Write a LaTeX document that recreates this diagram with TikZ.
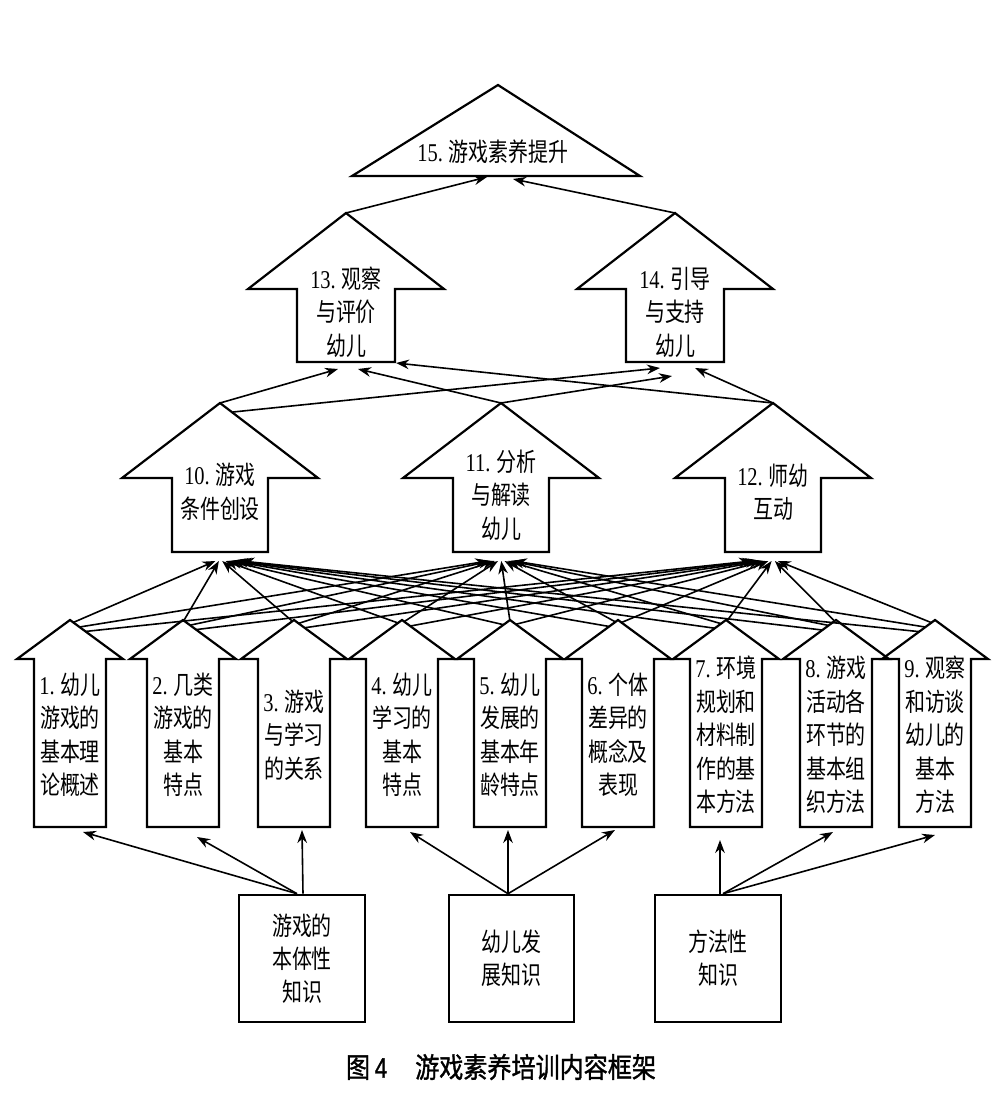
\documentclass[tikz,border=0pt]{standalone}
\usepackage{fontspec}
\setmainfont{Liberation Serif}
\newfontfamily\cjk[FakeStretch=0.78]{Noto Sans CJK SC}
\newfontfamily\numf[FakeStretch=0.8]{Liberation Serif}
\newfontfamily\capf[FakeStretch=0.86,FakeBold=1.2]{Noto Sans CJK SC}
\newfontfamily\capn[FakeStretch=0.8,FakeBold=1.2]{Liberation Sans}
\usetikzlibrary{calc,arrows.meta}
\newcommand\nm[1]{{\numf #1}}
\newcommand\barrow[9]{%
  \draw[shp] (#2-#7,#5) -- (#2-#7,#4) -- (#2-#6,#4) -- (#2,#3) -- (#2+#6,#4) -- (#2+#7,#4) -- (#2+#7,#5) -- cycle;
  \coordinate (#1-apex) at (#2,#3);
  \coordinate (#1-bot) at (#2,#5);
  \node[txt] (#1) at (#2,#8) {#9};
}
\tikzset{
  shp/.style={draw, line width=1.1pt, line join=miter},
  conn/.style={-{Stealth[length=6.5pt,width=4.8pt]}, line width=0.8pt},
  txt/.style={font=\cjk\fontsize{12.8}{16.75}\selectfont, align=center, inner sep=0pt},
  kbox/.style={draw, line width=1.3pt, font=\cjk\fontsize{12.8}{16.5}\selectfont, align=center, inner sep=0pt, minimum height=63.5pt},
}
\begin{document}
\begin{tikzpicture}[x=0.5pt,y=-0.5pt]
\fill[white] (0,0) rectangle (1000,1093);
\useasboundingbox (0,0) rectangle (1000,1093);

% top triangle
\draw[shp] (352,176) -- (498,85) -- (640,176) -- cycle;
\node[txt] (t15) at (493,152) {\nm{15.} 游戏素养提升};
\coordinate (t15-inA) at (487,177);
\coordinate (t15-inB) at (513,179);

% second row
\barrow{a13}{346}{213}{289}{362}{98}{49}{312}{\nm{13.} 观察\\与评价\\幼儿}
\barrow{a14}{675}{213}{289}{362}{98}{49}{312}{\nm{14.} 引导\\与支持\\幼儿}

% third row
\barrow{a10}{220}{403}{478}{552}{98}{48}{492}{\nm{10.} 游戏\\条件创设}
\barrow{a11}{501}{403}{478}{552}{98}{48}{495}{\nm{11.} 分析\\与解读\\幼儿}
\barrow{a12}{773}{403}{478}{552}{98}{48}{492}{\nm{12.} 师幼\\互动}

% fourth row
\barrow{a1}{70}{620}{659}{827}{53}{36}{735}{\nm{1.} 幼儿\\游戏的\\基本理\\论概述}
\barrow{a2}{183}{620}{659}{827}{53}{36}{735}{\nm{2.} 几类\\游戏的\\基本\\特点}
\barrow{a3}{294}{620}{659}{827}{53}{36}{735}{\nm{3.} 游戏\\与学习\\的关系}
\barrow{a4}{402}{620}{659}{827}{53}{36}{735}{\nm{4.} 幼儿\\学习的\\基本\\特点}
\barrow{a5}{510}{620}{659}{827}{53}{36}{735}{\nm{5.} 幼儿\\发展的\\基本年\\龄特点}
\barrow{a6}{618}{620}{659}{827}{53}{36}{735}{\nm{6.} 个体\\差异的\\概念及\\表现}
\barrow{a7}{726}{620}{659}{827}{53}{36}{735}{\nm{7.} 环境\\规划和\\材料制\\作的基\\本方法}
\barrow{a8}{836}{620}{659}{827}{53}{36}{735}{\nm{8.} 游戏\\活动各\\环节的\\基本组\\织方法}
\barrow{a9}{935}{620}{659}{827}{53}{36}{735}{\nm{9.} 观察\\和访谈\\幼儿的\\基本\\方法}

% bottom boxes
\node[kbox, minimum width=63pt] (k1) at (302,958.5) {游戏的\\本体性\\知识};
\node[kbox, minimum width=62.5pt] (k2) at (511.5,958.5) {幼儿发\\展知识};
\node[kbox, minimum width=63pt] (k3) at (718,958.5) {方法性\\知识};

% caption
\node[inner sep=0pt] (cap) at (501,1067) {\capf\fontsize{14}{16}\selectfont 图\,{\capn 4}\quad 游戏素养培训内容框架};

% top connectors
\draw[conn] (a13-apex) -- (t15-inA);
\draw[conn] (a14-apex) -- (t15-inB);

% middle connectors
\coordinate (in13a) at (338,369);
\coordinate (in13b) at (358,369);
\coordinate (in13c) at (396,363);
\coordinate (in14a) at (660,368);
\coordinate (in14b) at (672,376);
\coordinate (in14c) at (695,368);
\coordinate (out10b) at (233,412);
\draw[conn] (a10-apex) -- (in13a);
\draw[conn] (out10b) -- (in14a);
\draw[conn] (a11-apex) -- (in13b);
\draw[conn] (a11-apex) -- (in14b);
\draw[conn] (a12-apex) -- (in13c);
\draw[conn] (a12-apex) -- (in14c);

% lower connectors (each of 1-9 to each of 10-12)
\foreach \s/\sx in {a1/70,a2/183,a3/294,a4/402,a5/510,a6/618,a7/726,a8/836,a9/935}{
  \foreach \t/\tx in {a10/220,a11/501,a12/773}{
    \pgfmathsetmacro\myA{0.022*(\tx-\sx)}
    \pgfmathsetmacro\myB{0.74*abs(\myA)}
    \pgfmathsetmacro\myC{-0.03*(\tx-\sx)}
    \draw[conn] ($(\s-apex)+(\myA,\myB)$) -- ($(\t-bot)+(\myC,9)$);
  }
}

% bottom connectors
\draw[conn] ($(k1.north)+(-5,0)$) -- ($(a1-bot)+(13,5)$);
\draw[conn] ($(k1.north)+(-5,0)$) -- ($(a2-bot)+(14,10)$);
\draw[conn] ($(k1.north)+(1,0)$) -- ($(a3-bot)+(8,3)$);
\draw[conn] ($(k2.north)+(-3.5,0)$) -- ($(a4-bot)+(8,5)$);
\draw[conn] ($(k2.north)+(-3.5,0)$) -- ($(a5-bot)+(-2,3)$);
\draw[conn] ($(k2.north)+(-3.5,0)$) -- ($(a6-bot)+(-3,3)$);
\draw[conn] ($(k3.north)+(2,0)$) -- ($(a7-bot)+(-6,13)$);
\draw[conn] ($(k3.north)+(5,0)$) -- ($(a8-bot)+(-3,5)$);
\draw[conn] ($(k3.north)+(5,0)$) -- ($(a9-bot)+(0,8)$);
\end{tikzpicture}
\end{document}
